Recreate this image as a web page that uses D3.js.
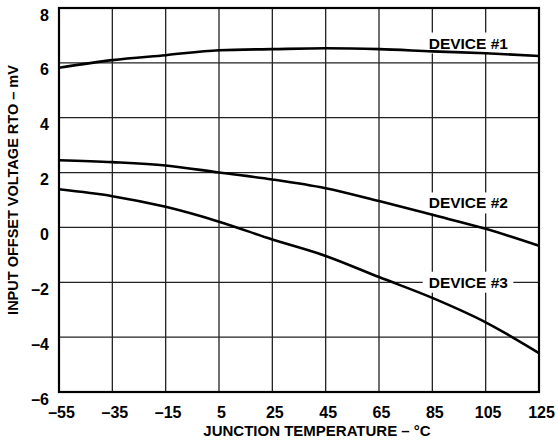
<!DOCTYPE html>
<html>
<head>
<meta charset="utf-8">
<script src="https://cdn.jsdelivr.net/npm/d3@7"></script>
<style>
  body { margin: 0; background: #fff; }
  text { font-family: "Liberation Sans", Arial, sans-serif; font-weight: bold; fill: #000; }
</style>
</head>
<body>
<div id="chart"></div>
<script>
// temperatures (deg C) along the x axis
var temps = [-55, -35, -15, 5, 25, 45, 65, 85, 105, 125];
// offset voltage, mV
var device1 = [5.82, 6.1, 6.28, 6.46, 6.5, 6.53, 6.5, 6.42, 6.35, 6.25];
var device2 = [2.45, 2.38, 2.26, 2.0, 1.75, 1.43, 0.96, 0.46, -0.05, -0.67];
var device3 = [1.39, 1.14, 0.75, 0.21, -0.44, -1.04, -1.81, -2.57, -3.46, -4.58];

var xTicks = [-55, -35, -15, 5, 25, 45, 65, 85, 105, 125];
var xTickLabels = ["–55", "–35", "–15", "5", "25", "45", "65", "85", "105", "125"];
var yTicks = [-6, -4, -2, 0, 2, 4, 6, 8];
var yTickLabels = ["–6", "–4", "–2", "0", "2", "4", "6", "8"];

var seriesNames = ["DEVICE #1", "DEVICE #2", "DEVICE #3"];
// where each label sits (in data units)
var labelX = [98.5, 98.5, 98.5];
var labelY = [6.72, 0.89, -2];

const margin = {top: 8, right: 19, bottom: 53, left: 59},
    width = 558 - margin.left - margin.right,
    height = 445 - margin.top - margin.bottom;

const svg = d3.select("#chart")
  .append("svg")
    .attr("width", 558)
    .attr("height", 445)
  .append("g")
    .attr("transform", `translate(${margin.left},${margin.top})`);

const x = d3.scaleLinear().domain([-55, 125]).range([0, width]);
const y = d3.scaleLinear().domain([-6, 8]).range([height, 0]);

// grid
svg.append("g")
  .selectAll("line")
  .data(xTicks)
  .join("line")
    .attr("x1", d => x(d)).attr("x2", d => x(d))
    .attr("y1", 0).attr("y2", height)
    .attr("stroke", "#222").attr("stroke-width", 1.3);
svg.append("g")
  .selectAll("line")
  .data(yTicks)
  .join("line")
    .attr("x1", 0).attr("x2", width)
    .attr("y1", d => y(d)).attr("y2", d => y(d))
    .attr("stroke", "#222").attr("stroke-width", 1.3);

// axes (labels only)
const xAxis = svg.append("g")
  .attr("transform", `translate(0, ${height})`)
  .call(d3.axisBottom(x).tickValues(xTicks).tickSize(0).tickPadding(14.5)
    .tickFormat((d, i) => xTickLabels[i]));
xAxis.select(".domain").remove();
xAxis.selectAll("text").attr("dx", 2).style("font-size", "16px");

const yAxis = svg.append("g")
  .call(d3.axisLeft(y).tickValues(yTicks).tickSize(0).tickPadding(10)
    .tickFormat((d, i) => yTickLabels[i]));
yAxis.select(".domain").remove();
yAxis.selectAll("text").attr("dy", "0.75em").style("font-size", "16px");

// device labels: white boxes hide the grid, curves go over them
const boxLayer = svg.append("g");
const curveLayer = svg.append("g");
const labelLayer = svg.append("g");

seriesNames.forEach(function(name, i) {
  const t = labelLayer.append("text")
    .attr("x", x(labelX[i]))
    .attr("y", y(labelY[i]))
    .attr("dy", "0.35em")
    .attr("text-anchor", "middle")
    .style("font-size", "15.5px")
    .text(name);
  const bb = t.node().getBBox();
  boxLayer.append("rect")
    .attr("x", bb.x - 6)
    .attr("y", bb.y - 2)
    .attr("width", bb.width + 11)
    .attr("height", bb.height + 4)
    .attr("fill", "#fff");
});

// curves
const line = d3.line()
  .x((d, i) => x(temps[i]))
  .y(d => y(d))
  .curve(d3.curveMonotoneX);

[device1, device2, device3].forEach(function(s) {
  curveLayer.append("path")
    .datum(s)
    .attr("fill", "none")
    .attr("stroke", "#000")
    .attr("stroke-width", 2.6)
    .attr("d", line);
});

// frame
svg.append("rect")
  .attr("width", width).attr("height", height)
  .attr("fill", "none").attr("stroke", "#000").attr("stroke-width", 2.2);

// axis titles
svg.append("text")
  .attr("x", width / 2 + 18)
  .attr("y", height + 44)
  .attr("text-anchor", "middle")
  .style("font-size", "15px")
  .text("JUNCTION TEMPERATURE – °C");

svg.append("text")
  .attr("transform", `translate(${-41}, ${182}) rotate(-90)`)
  .attr("text-anchor", "middle")
  .style("font-size", "14.5px")
  .text("INPUT OFFSET VOLTAGE RTO – mV");
</script>
</body>
</html>
